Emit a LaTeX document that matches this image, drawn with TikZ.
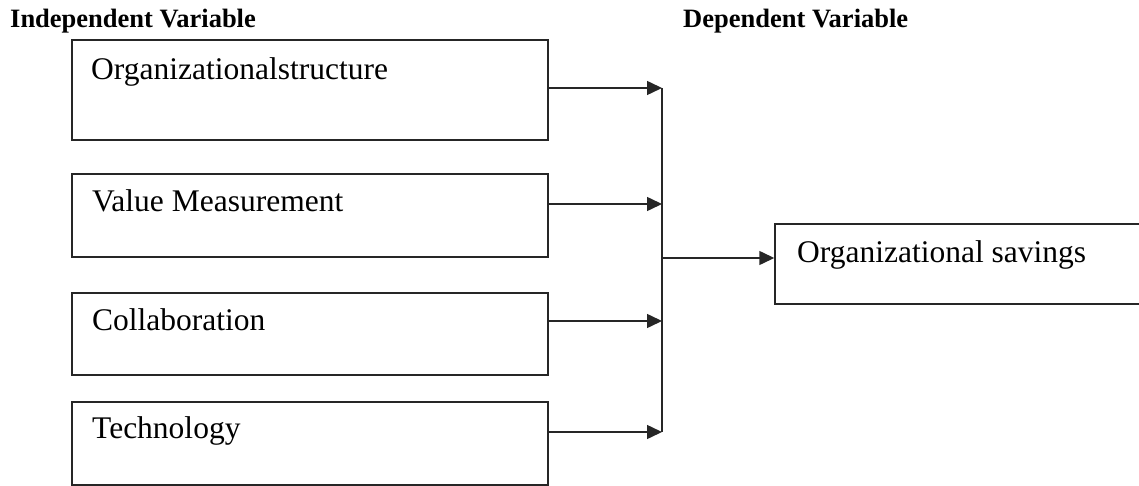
\documentclass[tikz,border=0pt]{standalone}
\usepackage{fontspec}
\setmainfont{Liberation Serif}
\usetikzlibrary{arrows.meta}
\begin{document}
\begin{tikzpicture}[x=1pt,y=-1pt,
  box/.style={draw=black!85,line width=1.5pt,rectangle,inner sep=0pt},
  txt/.style={anchor=base west,inner sep=0pt,font=\fontsize{31.5}{36}\selectfont},
  head/.style={anchor=base west,inner sep=0pt,font=\fontsize{26.5}{30}\selectfont\bfseries},
  conn/.style={draw=black!85,line width=1.5pt,-{Triangle[length=15pt,width=14pt]}},
  bus/.style={draw=black!85,line width=1.5pt}]
\useasboundingbox (0,0) rectangle (1139,486);
\clip (0,0) rectangle (1139,486);
% headings
\node[head] (hi) at (10,28) {Independent Variable};
\node[head] (hd) at (683,28) {Dependent Variable};
% independent boxes
\node[box,minimum width=476pt,minimum height=100pt] (b1) at (310,90) {};
\node[box,minimum width=476pt,minimum height=83pt] (b2) at (310,215.5) {};
\node[box,minimum width=476pt,minimum height=82pt] (b3) at (310,334) {};
\node[box,minimum width=476pt,minimum height=83pt] (b4) at (310,443.5) {};
\node[txt] (t1) at (91,80) {Organizationalstructure};
\node[txt] (t2) at (92,212) {Value Measurement};
\node[txt] (t3) at (92,330) {Collaboration};
\node[txt] (t4) at (92,438) {Technology};
% dependent box
\node[box,minimum width=400pt,minimum height=80pt] (out) at (975,264) {};
\node[txt] (t5) at (797,262) {Organizational savings};
% bus coordinates
\coordinate (j1) at (662,88);
\coordinate (j2) at (662,204);
\coordinate (j3) at (662,321);
\coordinate (j4) at (662,432);
\coordinate (jm) at (662,258);
% connectors
\draw[conn] ([yshift=2pt]b1.east) -- (j1);
\draw[conn] ([yshift=11.5pt]b2.east) -- (j2);
\draw[conn] ([yshift=13pt]b3.east) -- (j3);
\draw[conn] ([yshift=11.5pt]b4.east) -- (j4);
\draw[bus] (j1) -- (j4);
\draw[conn] (jm) -- ([yshift=6pt]out.west);
\end{tikzpicture}
\end{document}
